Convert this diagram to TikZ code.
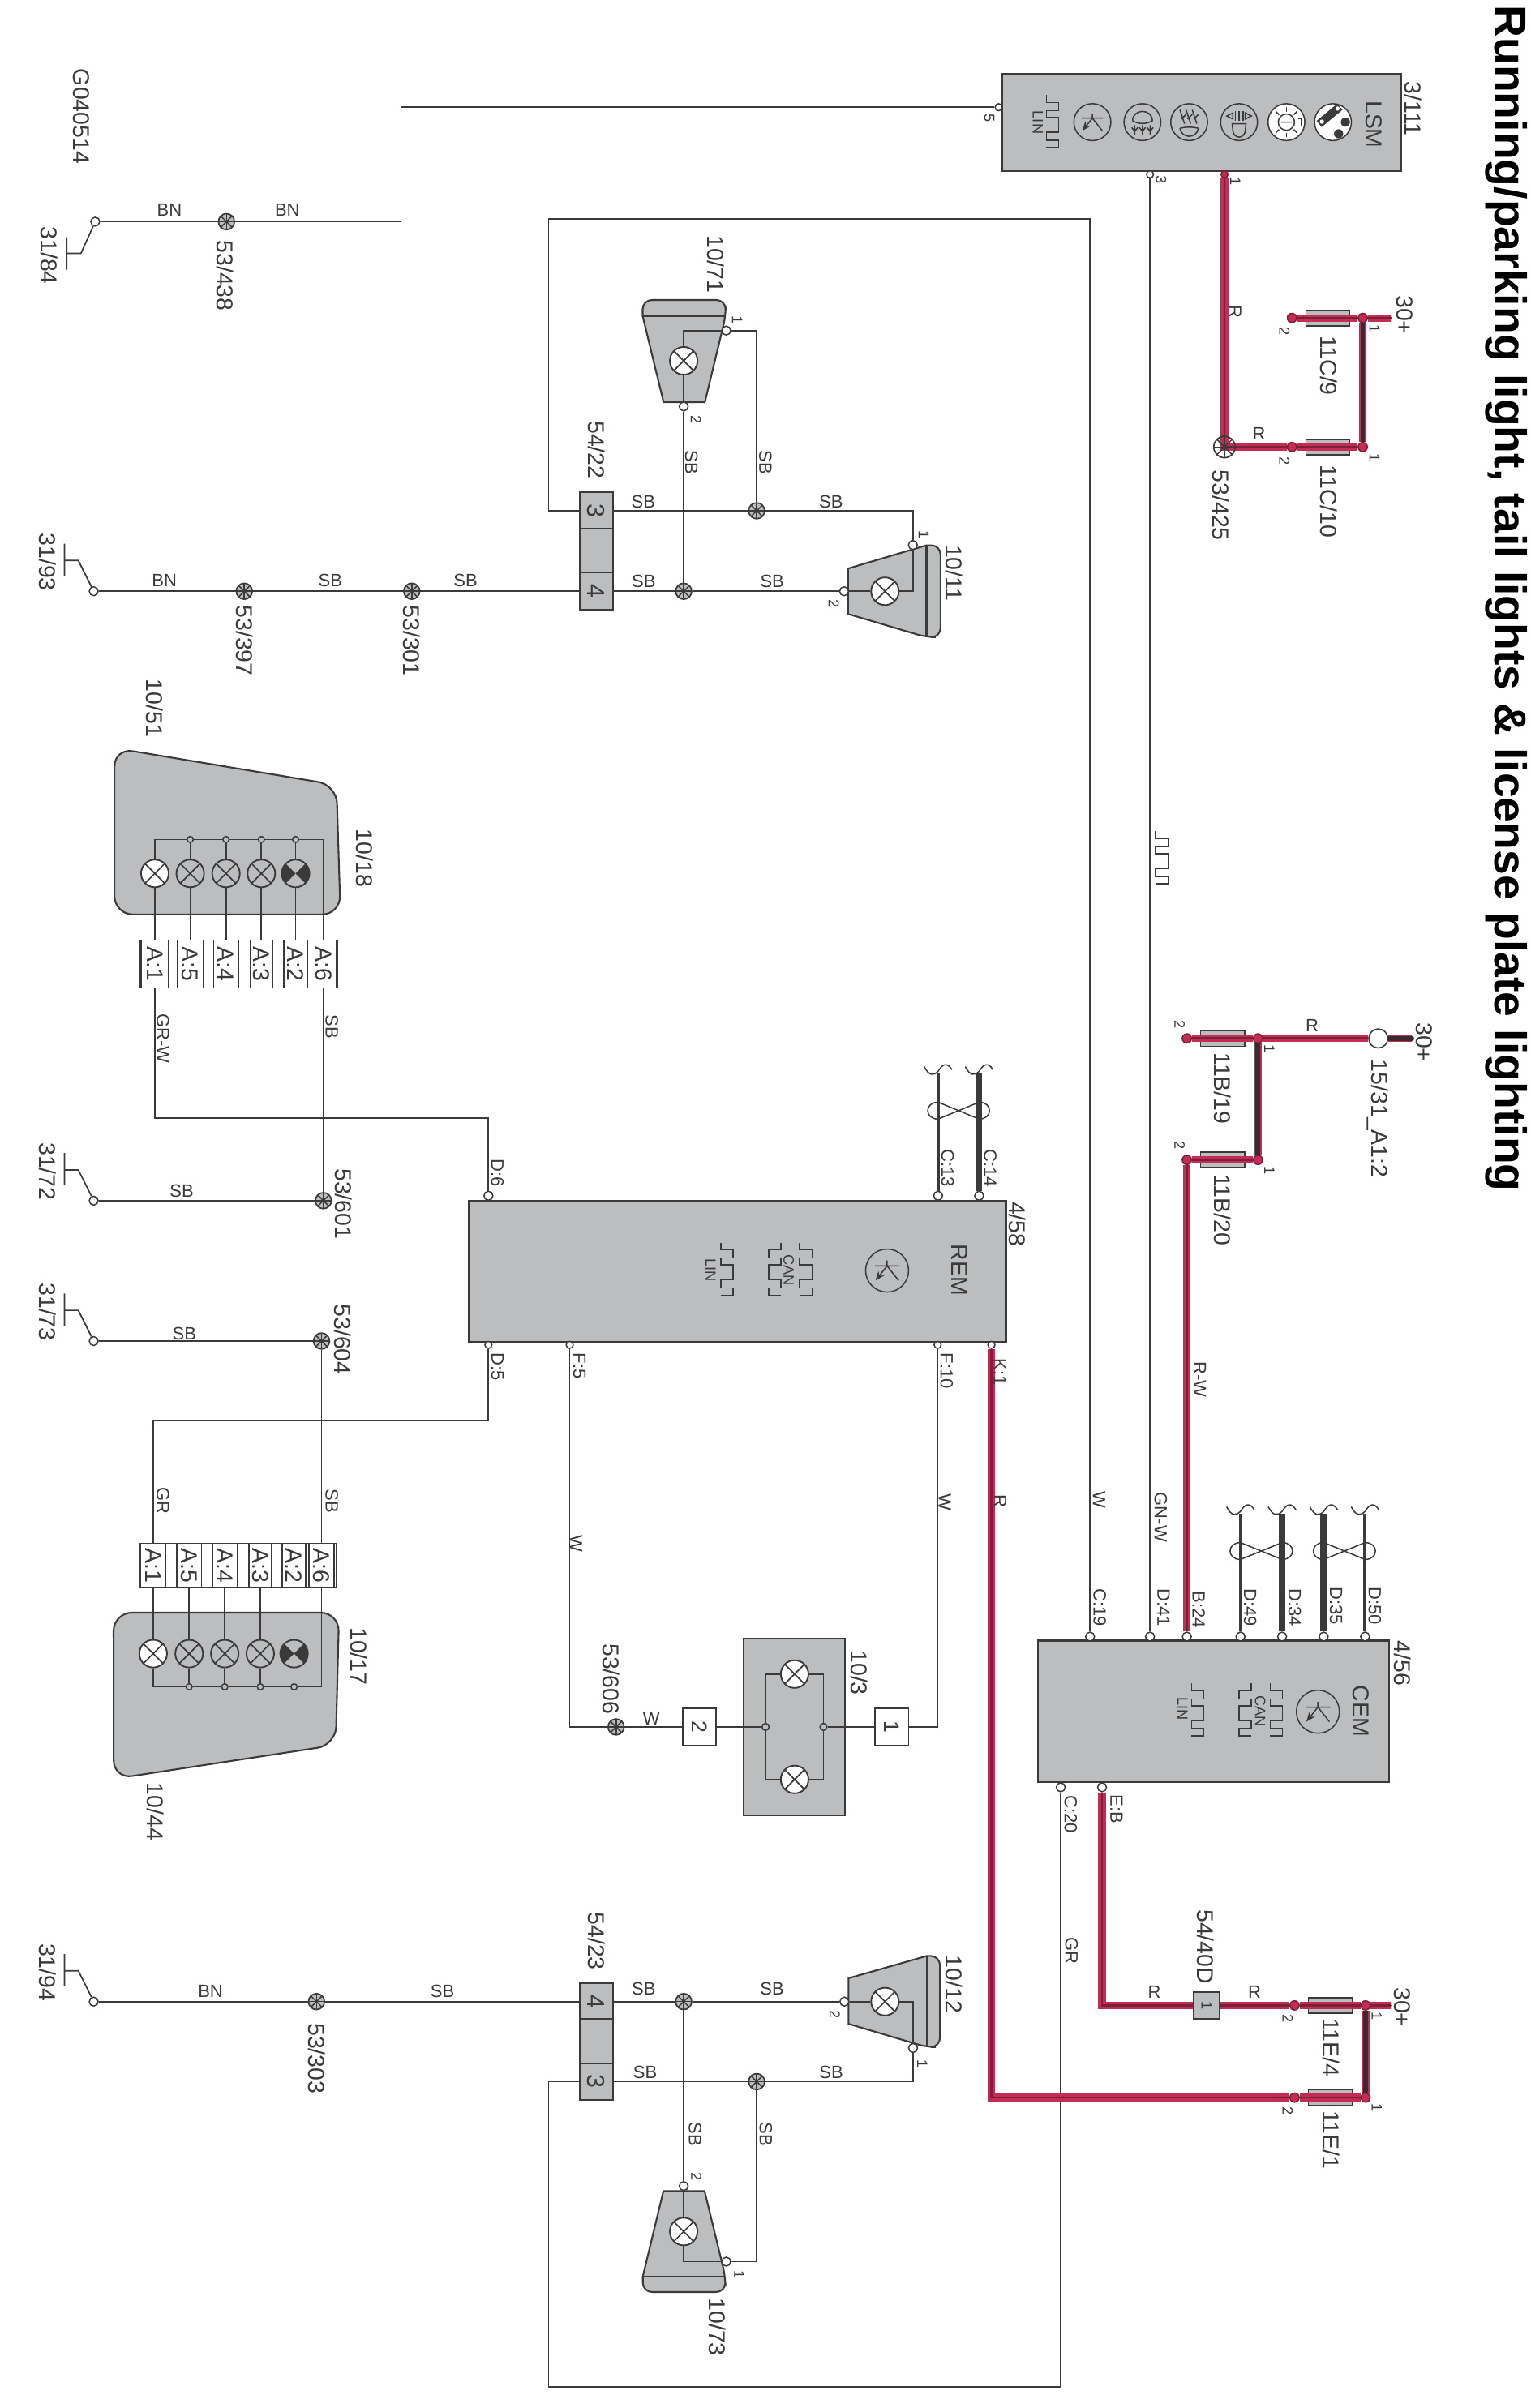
\documentclass[tikz,border=0pt]{standalone}
\usepackage{fontspec}
\setmainfont{Liberation Sans}
\usetikzlibrary{arrows.meta}
\usetikzlibrary{backgrounds}

\definecolor{inkc}{HTML}{3A3A3A}
\definecolor{panelc}{HTML}{BCBDBF}
\definecolor{wirered}{HTML}{C42C56}
\definecolor{corered}{HTML}{7A2038}
\definecolor{coredark}{HTML}{3A2A30}

\tikzset{
    tag/.style={rotate=-90, inner sep=0pt, text=inkc, font=\fontsize{7.5}{8}\selectfont},
    wiretag/.style={tag, font=\fontsize{5.8}{6}\selectfont},
    flattag/.style={inner sep=0pt, text=inkc, font=\fontsize{5.8}{6}\selectfont},
    pintag/.style={tag, font=\fontsize{4.8}{5}\selectfont},
    wire/.style={draw=inkc, line width=0.45pt},
    redwire/.style={draw=corered, line width=0.7pt, preaction={draw=wirered, line width=2.45pt}},
    darkwire/.style={draw=coredark, line width=1.5pt, preaction={draw=wirered, line width=2.45pt}},
    canthin/.style={draw=inkc, line width=1.1pt},
    canthick/.style={draw=inkc, line width=2.3pt},
    symline/.style={draw=inkc, line width=0.4pt},
    body/.style={draw=inkc, fill=panelc, line width=0.55pt},
    ecubox/.style={rectangle, draw=inkc, fill=panelc, line width=0.6pt, inner sep=0pt},
    field/.style={tag, rectangle, draw=inkc, fill=panelc, line width=0.5pt, font=\fontsize{8}{8}\selectfont},
    stripfield/.style={field, fill=white, line width=0.4pt, minimum width=15.6pt},
    fusebox/.style={rectangle, draw=inkc, fill=panelc, line width=0.45pt, inner sep=0pt,
        minimum width=14.3pt, minimum height=5.1pt},
    pin/.style={circle, draw=inkc, fill=white, line width=0.4pt, inner sep=0pt, minimum size=2.9pt},
    smallpin/.style={pin, minimum size=2.3pt},
    raildot/.style={pin, fill=panelc, minimum size=2pt},
    redpin/.style={pin, draw=corered, fill=wirered, minimum size=3pt},
    splice/.style={circle, draw=inkc, fill=panelc, line width=0.45pt, inner sep=0pt, minimum size=5.2pt,
        path picture={
            \foreach \a in {0,45,90,135}
                \draw[inkc, line width=0.4pt] (path picture bounding box.center) +(\a:4pt) -- +({\a+180}:4pt);
        }},
    lampcross/.style={circle, draw=inkc, line width=0.5pt, inner sep=0pt, minimum size=9pt,
        path picture={
            \draw[inkc, line width=0.45pt] (path picture bounding box.center) +(45:6pt) -- +(225:6pt)
                (path picture bounding box.center) +(135:6pt) -- +(315:6pt);
        }},
    lampwhite/.style={lampcross, fill=white},
    lampgray/.style={lampcross, fill=panelc},
    lampdark/.style={circle, draw=inkc, fill=panelc, line width=0.5pt, inner sep=0pt, minimum size=9pt,
        path picture={
            \fill[inkc] (path picture bounding box.center) -- +(135:8pt) -- +(225:8pt) -- cycle;
            \fill[inkc] (path picture bounding box.center) -- +(45:8pt) -- +(-45:8pt) -- cycle;
        }},
    pulse/.pic={
        \draw[symline] (-4,-17.1) -- (-4,-12.3) -- (4,-12.3) -- (4,-7) -- (-4,-7) -- (-4,-2.6)
            -- (4,-2.6) -- (4,7.1) -- (-4,7.1) -- (-4,12.4) -- (4,12.4) -- (4,17.1) -- (-4,17.1);
    },
    ecusym/.pic={
        \draw[symline] (0,0) circle (14);
        \draw[symline] (0,-6.5) -- (0,-3) (-8,-3) -- (8,-3) (0,-3) -- (7.5,6.5);
        \draw[symline, -{Stealth[length=3pt, width=2.4pt]}] (0,-3) -- (-7.5,6.5);
    }
}

\begin{document}
\begin{tikzpicture}[x=0.5pt, y=-0.5pt]

    \useasboundingbox (0,0) rectangle (996,1567.6);

    \node[tag, anchor=base west, text=black, font=\fontsize{14.6}{15}\selectfont\bfseries] (title)
        at (973,3) {Running/parking light, tail lights \& license plate lighting};
    \node[tag] (docid) at (53,75.7) {G040514};

    % modules
    \node[ecubox, minimum width=129.8pt, minimum height=31.8pt] (lsm) at (782.2,79.7) {};
    \node[ecubox, minimum width=174.75pt, minimum height=46pt] (rem) at (480,827.6) {};
    \node[ecubox, minimum width=114.3pt, minimum height=46pt] (cem) at (789.9,1114) {};

    \node[tag] (lsmname) at (894,81) {LSM};
    \node[tag] (lsmref) at (920,70.8) {3/111};
    \node[tag] (remname) at (624.5,826.8) {REM};
    \node[tag] (remref) at (662.2,796.9) {4/58};
    \node[tag] (cemname) at (885.8,1113.8) {CEM};
    \node[tag] (cemref) at (913.1,1082.7) {4/56};

    \pic at (685.1,79) {pulse};
    \node[pintag] (lsmlin) at (675.5,79.7) {LIN};
    \pic[scale=0.86] at (711,79.5) {ecusym};
    \pic at (473.2,826) {pulse};
    \node[pintag] (remlin) at (462.5,827) {LIN};
    \pic at (524.5,826) {pulse};
    \pic[xscale=-1] at (504.3,826) {pulse};
    \node[pintag] (remcan) at (513.4,827) {CAN};
    \pic at (577.4,827.1) {ecusym};
    \pic at (779.5,1113) {pulse};
    \node[pintag] (cemlin) at (769.8,1112.5) {LIN};
    \pic at (830.8,1113) {pulse};
    \pic[xscale=-1] at (810.5,1113) {pulse};
    \node[pintag] (cemcan) at (820.3,1113.8) {CAN};
    \pic at (857.8,1114.3) {ecusym};

    % LSM switch symbols
    \begin{scope}[shift={(743.6,79.5)}]
        \draw[symline] (0,0) circle (12);
        \draw[symline] (-6.5,-1) .. controls (-6,-9) and (6,-9) .. (6.5,-1) .. controls (3,1.5) and (-3,1.5) .. (-6.5,-1);
        \foreach \x in {-5,0,5}
            \draw[symline] (\x,2) -- (\x,8.5) (\x-2,3.5) -- (\x,6) -- (\x+2,3.5);
    \end{scope}
    \begin{scope}[shift={(774,79.5)}]
        \draw[symline] (0,0) circle (12);
        \draw[symline] (-6,4) .. controls (-2,3) and (2,3) .. (6,4) .. controls (5,11) and (-5,11) .. (-6,4);
        \foreach \x in {-6,-2,2}
            \draw[symline] (\x,-8) -- (\x+3,1) (\x+4,-5) -- (\x+1,-2);
    \end{scope}
    \begin{scope}[shift={(806.5,79.5)}]
        \draw[symline] (0,0) circle (12);
        \draw[symline] (-4.5,1) -- (4.5,1) -- (4,6) .. controls (3,11) and (-3,11) .. (-4,6) -- cycle;
        \draw[symline] (-8,-4) -- (-4,-6) -- (-4,-2) -- cycle (4,-6) -- (8,-4) -- (4,-2) -- cycle;
        \foreach \x in {-2.5,0,2.5}
            \draw[symline] (\x,-7) -- (\x,-1);
    \end{scope}
    \begin{scope}[shift={(837.3,79.5)}]
        \draw[symline, fill=white] (0,0) circle (12);
        \draw[symline] (0,0) circle (5.3) (-3.5,0) -- (3.5,0);
        \draw[symline] (7.5,-2.5) -- (9.5,-2.5) -- (9.5,2.5) -- (7.5,2.5);
        \foreach \a in {45,90,135,180,225,270,315}
            \draw[symline] (\a:6.8) -- (\a:9.8);
    \end{scope}
    \begin{scope}[shift={(867.6,79.5)}]
        \draw[symline, fill=white] (0,0) circle (12);
        \draw[inkc, line width=2.6pt] (-9,1.2) -- (4.5,-10);
        \fill[white] (-7.2,-0.3) circle (1.4) (3,-8.8) circle (1.4);
        \fill[inkc] (8.1,0) circle (3) (3.7,7.6) circle (3);
    \end{scope}

    % module pins
    \node[smallpin] (lsm5) at (650,69.8) {};
    \node[smallpin] (lsm3) at (748.5,113.5) {};
    \node[redpin, minimum size=2.3pt] (lsm1) at (797,113.5) {};
    \node[pin] (rem6) at (317.9,778.4) {};
    \node[pin] (rem13) at (610.6,778.4) {};
    \node[pin] (rem14) at (637.3,778.4) {};
    \node[smallpin] (rem5) at (317.9,875.5) {};
    \node[smallpin] (remf5) at (370.8,875.5) {};
    \node[smallpin] (remf10) at (610.3,875.5) {};
    \node[smallpin] (remk1) at (645.3,875.5) {};
    \node[pin] (cem19) at (709.5,1065.4) {};
    \node[pin] (cem41) at (748.5,1065.4) {};
    \node[pin] (cem24) at (772.5,1065.4) {};
    \node[pin] (cem49) at (807.4,1065.4) {};
    \node[pin] (cem34) at (834.5,1065.4) {};
    \node[pin] (cem35) at (861.6,1065.4) {};
    \node[pin] (cem50) at (888.5,1065.4) {};
    \node[pin] (cem20) at (690.4,1163.5) {};
    \node[pin] (cemeb) at (717.3,1163.5) {};

    \node[pintag] (lab5) at (644,77) {5};
    \node[pintag] (lab3) at (755.7,117) {3};
    \node[pintag] (lab1) at (804,118) {1};
    \node[wiretag] (labd6) at (323.8,763.5) {D:6};
    \node[wiretag] (labc13) at (616.8,760.5) {C:13};
    \node[wiretag] (labc14) at (644.5,760.5) {C:14};
    \node[wiretag] (labd5) at (323.8,889.7) {D:5};
    \node[wiretag] (labf5) at (377.2,889.2) {F:5};
    \node[wiretag] (labf10) at (616.2,892.4) {F:10};
    \node[wiretag] (labk1) at (650.9,893) {K:1};
    \node[wiretag] (labc19) at (715.8,1046.6) {C:19};
    \node[wiretag] (labd41) at (757.4,1046.6) {D:41};
    \node[wiretag] (labb24) at (780.2,1047.8) {B:24};
    \node[wiretag] (labd49) at (813.7,1046.6) {D:49};
    \node[wiretag] (labd34) at (842.7,1046.6) {D:34};
    \node[wiretag] (labd35) at (869.6,1045.4) {D:35};
    \node[wiretag] (labd50) at (894.8,1045.4) {D:50};
    \node[wiretag] (labc20) at (696.9,1181.1) {C:20};
    \node[wiretag] (labeb) at (726.8,1177.6) {E:B};

    % ground points
    \node[pin] (sw84) at (62,144.3) {};
    \draw[wire] (43.4,154.5) -- (43.4,175.6) (43.4,164.9) -- (52.7,164.9) -- (sw84);
    \node[tag] (swl84) at (32.2,166.3) {31/84};
    \foreach \n/\y in {93/384.9,72/781.6,73/873,94/1303} {
        \node[pin] (sw\n) at (61,\y) {};
        \draw[wire] (42,\y-31) -- (42,\y-10) (42,\y-20) -- (51,\y-20) -- (sw\n);
        \node[tag] (swl\n) at (31,\y-19) {31/\n};
    }

    % splices
    \node[splice] (sp438) at (147.4,144.3) {};
    \node[splice] (sp397) at (159,384.9) {};
    \node[splice] (sp301) at (268,384.9) {};
    \node[splice] (sp71) at (492.5,332.5) {};
    \node[splice] (sp11) at (445,384.9) {};
    \node[splice] (sp601) at (210.5,781.6) {};
    \node[splice] (sp604) at (209.3,873) {};
    \node[splice] (sp606) at (401,1124.2) {};
    \node[splice] (sp303) at (206,1303) {};
    \node[splice] (sp12) at (445,1303) {};
    \node[splice] (sp73) at (492.5,1355.1) {};
    \node[splice, fill=none, minimum size=7pt] (sp425) at (797,291) {};

    \node[tag] (lab438) at (146.8,179.5) {53/438};
    \node[tag] (lab397) at (159,417) {53/397};
    \node[tag] (lab301) at (268,417) {53/301};
    \node[tag] (lab601) at (223.7,783.7) {53/601};
    \node[tag] (lab604) at (223,872) {53/604};
    \node[tag] (lab606) at (398,1093) {53/606};
    \node[tag] (lab303) at (206,1340) {53/303};
    \node[tag] (lab425) at (794.7,329) {53/425};

    % connectors 54/22 54/23 54/40D
    \node[field, minimum width=12pt, minimum height=10.7pt] (c22a) at (388.1,332.5) {3};
    \node[field, minimum width=14.6pt, minimum height=10.7pt] (c22m) at (388.1,358.9) {};
    \node[field, minimum width=12pt, minimum height=10.7pt] (c22b) at (388.1,384.9) {4};
    \node[tag] (lab22) at (388.4,292.9) {54/22};
    \node[field, minimum width=12pt, minimum height=10.7pt] (c23a) at (388.1,1303) {4};
    \node[field, minimum width=15.2pt, minimum height=10.7pt] (c23m) at (388.1,1329.2) {};
    \node[field, minimum width=12pt, minimum height=10.7pt] (c23b) at (388.1,1355.1) {3};
    \node[tag] (lab23) at (388.3,1263.6) {54/23};
    \node[field, minimum width=8.8pt, minimum height=8.3pt, font=\fontsize{4.8}{5}\selectfont] (c40) at (785.3,1305.5) {1};
    \node[tag] (lab40) at (784.5,1267.3) {54/40D};

    % lamps 10/71 10/11 10/12 10/73
    \node[lampwhite] (l71) at (445,234.9) {};
    \node[pin] (p71a) at (472.7,215.2) {};
    \node[pin] (p71b) at (445,264.6) {};
    \node[pintag] (lab71a) at (479.9,208.5) {1};
    \node[pintag] (lab71b) at (453,273) {2};
    \node[tag] (lab71) at (466,172) {10/71};

    \node[lampwhite] (l11) at (576,384.9) {};
    \node[pin] (p11a) at (594.2,354.8) {};
    \node[pin] (p11b) at (549.4,384.9) {};
    \node[pintag] (lab11a) at (601.3,348.3) {1};
    \node[pintag] (lab11b) at (542.7,393.2) {2};
    \node[tag] (lab11) at (621.3,373) {10/11};

    \node[lampwhite] (l12) at (576,1303) {};
    \node[pin] (p12a) at (594.3,1333.2) {};
    \node[pin] (p12b) at (549.6,1303) {};
    \node[pintag] (lab12a) at (600.3,1343.3) {1};
    \node[pintag] (lab12b) at (543.4,1311.6) {2};
    \node[tag] (lab12) at (621.3,1291.8) {10/12};

    \node[lampwhite] (l73) at (445,1452.7) {};
    \node[pin] (p73a) at (472.7,1472.3) {};
    \node[pin] (p73b) at (445,1423.1) {};
    \node[pintag] (lab73a) at (481.2,1480.6) {1};
    \node[pintag] (lab73b) at (453.3,1417) {2};
    \node[tag] (lab73) at (466.7,1514.9) {10/73};

    % rear lamp clusters
    \node[rectangle, draw=inkc, fill=white, line width=0.4pt, inner sep=0pt, minimum width=64.2pt, minimum height=15.6pt] (strip18) at (155.6,627.5) {};
    \foreach \n/\x/\t/\w in {a/100.8/A:1/8.6,b/123.8/A:5/8.4,c/147.1/A:4/8.1,d/170.1/A:3/7.4,e/192.4/A:2/7.6,f/210.5/A:6/8.2} {
        \node[stripfield, minimum height=\w pt, font=\fontsize{7.5}{8}\selectfont] (f18\n) at (\x,627.5) {\t};
    }
    \foreach \n/\x/\s in {a/100.8/lampwhite,b/123.8/lampgray,c/147.1/lampgray,d/170.1/lampgray,e/192.4/lampdark} {
        \node[\s] (l18\n) at (\x,568.6) {};
    }
    \foreach \n/\x in {b/123.8,c/147.1,d/170.1,e/192.4}
        \node[raildot] (d18\n) at (\x,546.5) {};
    \node[tag] (lab51) at (100.8,461) {10/51};
    \node[tag] (lab18) at (237.5,558.7) {10/18};

    \node[rectangle, draw=inkc, fill=white, line width=0.4pt, inner sep=0pt, minimum width=64pt, minimum height=14.4pt] (strip17) at (154.8,1019) {};
    \foreach \n/\x/\t/\w in {a/99.7/A:1/8,b/123.1/A:5/8.1,c/146.3/A:4/8.1,d/169.4/A:3/7.4,e/191.4/A:2/7.6,f/209.3/A:6/8.1} {
        \node[stripfield, minimum width=14.4pt, minimum height=\w pt, font=\fontsize{7.5}{8}\selectfont] (f17\n) at (\x,1019) {\t};
    }
    \foreach \n/\x/\s in {a/99.7/lampwhite,b/123.1/lampgray,c/146.3/lampgray,d/169.4/lampgray,e/191.4/lampdark} {
        \node[\s] (l17\n) at (\x,1076.5) {};
    }
    \foreach \n/\x in {b/123.1,c/146.3,d/169.4,e/191.4}
        \node[raildot] (d17\n) at (\x,1098.1) {};
    \node[tag] (lab17) at (233.6,1078.2) {10/17};
    \node[tag] (lab44) at (101.1,1179.4) {10/44};

    % license plate lamp
    \node[lampwhite] (l3a) at (517.2,1089.8) {};
    \node[lampwhite] (l3b) at (517.2,1158.4) {};
    \node[smallpin, fill=panelc] (p3l) at (498.3,1124.2) {};
    \node[smallpin, fill=panelc] (p3r) at (536,1124.2) {};
    \node[field, fill=white, minimum width=12.1pt, minimum height=10.9pt, font=\fontsize{7}{7}\selectfont] (box2) at (455.3,1124.2) {2};
    \node[field, fill=white, minimum width=12.1pt, minimum height=10.9pt, font=\fontsize{7}{7}\selectfont] (box1) at (580.5,1124.2) {1};
    \node[tag] (lab103) at (559.4,1088.9) {10/3};

    % fuses, pins
    \node[redpin] (p9b) at (840.9,207) {};
    \node[redpin] (p9a) at (887,207) {};
    \node[redpin] (p10b) at (840.9,291) {};
    \node[redpin] (p10a) at (887,291) {};
    \node[redpin] (p19b) at (772.5,676) {};
    \node[redpin] (p19a) at (818.8,676) {};
    \node[redpin] (p20b) at (772.5,755.1) {};
    \node[redpin] (p20a) at (818.8,755.1) {};
    \node[redpin] (p4b) at (842.6,1305.5) {};
    \node[redpin] (p4a) at (888.8,1305.5) {};
    \node[redpin] (p1b) at (842.6,1365.5) {};
    \node[redpin] (p1a) at (888.8,1365.5) {};
    \node[pin, minimum size=6.2pt] (feed) at (897.1,676) {};
    \coordinate (end9) at (905.4,207);
    \coordinate (end4) at (905,1305.5);
    \coordinate (end19) at (919,676);

    \node[pintag] (lab9b) at (836,215.6) {2};
    \node[pintag] (lab9a) at (894.7,214) {1};
    \node[pintag] (lab10b) at (836,300) {2};
    \node[pintag] (lab10a) at (894.7,298) {1};
    \node[pintag] (lab19b) at (767.8,666.7) {2};
    \node[pintag] (lab19a) at (826.2,682.5) {1};
    \node[pintag] (lab20b) at (767.8,745.8) {2};
    \node[pintag] (lab20a) at (826.2,762) {1};
    \node[pintag] (lab4b) at (838.2,1314) {2};
    \node[pintag] (lab4a) at (896.2,1312.2) {1};
    \node[pintag] (lab1b) at (838.2,1374.1) {2};
    \node[pintag] (lab1a) at (896.2,1372) {1};
    \node[tag] (lab9) at (865,238) {11C/9};
    \node[tag] (lab10) at (865,326.5) {11C/10};
    \node[tag] (lab19) at (796,708.5) {11B/19};
    \node[tag] (lab20) at (796,787.6) {11B/20};
    \node[tag] (labe4) at (866.3,1332.9) {11E/4};
    \node[tag] (labe1) at (866.3,1393) {11E/1};
    \node[tag] (labp1) at (914.5,205) {30+};
    \node[tag] (labp2) at (927,678.4) {30+};
    \node[tag] (labp3) at (912.9,1306.5) {30+};
    \node[tag] (labfeed) at (896.8,728.2) {15/31\_A1:2};

    % wire colours
    \node[flattag] (w1) at (110.3,136.7) {BN};
    \node[flattag] (w2) at (187,136.7) {BN};
    \node[flattag] (w3) at (107,378) {BN};
    \node[flattag] (w4) at (215,378) {SB};
    \node[flattag] (w5) at (303,378) {SB};
    \node[flattag] (w6) at (418.7,326.9) {SB};
    \node[flattag] (w7) at (540.9,326.9) {SB};
    \node[flattag] (w8) at (419,378.6) {SB};
    \node[flattag] (w9) at (502.6,378.6) {SB};
    \node[wiretag] (w10) at (450,301) {SB};
    \node[wiretag] (w11) at (498.2,301) {SB};
    \node[wiretag] (w12) at (106,676) {GR-W};
    \node[wiretag] (w13) at (216,668.3) {SB};
    \node[flattag] (w14) at (118.3,775.5) {SB};
    \node[flattag] (w15) at (120,868) {SB};
    \node[wiretag] (w16) at (106,977) {GR};
    \node[wiretag] (w17) at (216,977) {SB};
    \node[wiretag] (w18) at (375,1005) {W};
    \node[flattag] (w19) at (424,1119) {W};
    \node[wiretag] (w20) at (615,978) {W};
    \node[wiretag] (w21) at (651,977) {R};
    \node[wiretag] (w22) at (715.4,976.2) {W};
    \node[wiretag] (w23) at (755.5,987.7) {GN-W};
    \node[wiretag] (w24) at (781,898) {R-W};
    \node[wiretag] (w25) at (804,203) {R};
    \node[flattag] (w26) at (819.5,282.4) {R};
    \node[flattag] (w27) at (854,667.9) {R};
    \node[flattag] (w28) at (751.4,1296.7) {R};
    \node[flattag] (w29) at (816.5,1296.7) {R};
    \node[wiretag] (w30) at (697.4,1270) {GR};
    \node[flattag] (w31) at (137,1296) {BN};
    \node[flattag] (w32) at (288,1296) {SB};
    \node[flattag] (w33) at (419,1294.9) {SB};
    \node[flattag] (w34) at (502.5,1294.9) {SB};
    \node[flattag] (w35) at (419.9,1349) {SB};
    \node[flattag] (w36) at (541,1349) {SB};
    \node[wiretag] (w37) at (452.4,1389.4) {SB};
    \node[wiretag] (w38) at (498.5,1389.4) {SB};

    \pic at (756.2,558.3) {pulse};

    % twisted pairs
    \foreach \a/\b/\y in {610.6/637.3/723,807.4/834.5/1009.7,861.6/888.5/1009.7}
        \draw[symline] (\a,\y-5.5) -- (\b,\y+5.5) .. controls (\b+9,\y+5.5) and (\b+9,\y-5.5) .. (\b,\y-5.5)
            -- (\a,\y+5.5) .. controls (\a-9,\y+5.5) and (\a-9,\y-5.5) .. (\a,\y-5.5);
    \foreach \x/\y in {610.6/695.4,637.3/695.4,807.4/981.9,834.5/981.9,861.6/981.9,888.5/981.9}
        \draw[symline] (\x-9,\y-1) .. controls (\x-6,\y+5) and (\x-3,\y+5) .. (\x,\y+2) .. controls (\x+3,\y-3) and (\x+6,\y-4) .. (\x+9,\y+1);

    \begin{scope}[on background layer]

        \fill[white] (0,0) rectangle (996,1567.6);

        % lamp housings
        \draw[body] (431.9,261.8) -- (418.3,205.8) [rounded corners=3pt] -- (418.3,195.3) -- (472.3,195.3)
            -- (472.3,205.8) [sharp corners] -- (458.8,261.8) -- cycle;
        \draw[body] (418.3,205.8) -- (472.3,205.8);
        \draw[body] (552,370.1) -- (603,355) [rounded corners=3pt] -- (612.2,355) -- (612.2,414.8)
            -- (603,414.8) [sharp corners] -- (552,399.7) -- cycle;
        \draw[body] (603,355) -- (603,414.8);
        \draw[body] (552.3,1287.8) -- (603.2,1273.3) [rounded corners=3pt] -- (611.8,1273.3) -- (611.8,1332.6)
            -- (603.2,1332.6) [sharp corners] -- (552.3,1317.5) -- cycle;
        \draw[body] (603.2,1273.3) -- (603.2,1332.6);
        \draw[body] (431.8,1426.3) -- (418.4,1482) [rounded corners=3pt] -- (418.4,1492.1) -- (472.1,1492.1)
            -- (472.1,1482) [sharp corners] -- (458.6,1426.3) -- cycle;
        \draw[body] (418.4,1482) -- (472.1,1482);
        \draw[body, rounded corners=6pt] (74.5,595.3) -- (74.5,487) -- (219,511) -- (221.6,595.3) -- cycle;
        \draw[body, rounded corners=6pt] (73.9,1049.8) -- (220.7,1049.8) -- (218.5,1136) -- (74,1158) -- cycle;
        \draw[body] (484.1,1066.9) rectangle (550.2,1181.7);

        % fuses
        \node[fusebox] (f9) at (864.3,207) {};
        \node[fusebox] (f10) at (864.3,291) {};
        \node[fusebox] (f19) at (795.7,676) {};
        \node[fusebox] (f20) at (795.7,755.1) {};
        \node[fusebox] (f4) at (865.9,1305.5) {};
        \node[fusebox] (f1) at (865.9,1365.5) {};

        % signal wires
        \coordinate (k84) at (261,144.3);
        \coordinate (k142) at (357,142.4);
        \coordinate (k18) at (317.9,727.7);
        \coordinate (k17) at (317.9,925);
        \coordinate (k1553) at (357,1553.7);
        \draw[wire] (lsm5) -| (k84) -- (sp438) -- (sw84);
        \draw[wire] (lsm3) -- (cem41);
        \draw[wire] (c22a) -| (k142) -| (cem19);
        \draw[wire] (c22a) -- (sp71) -| (p11a);
        \draw[wire] (sw93) -- (sp397) -- (sp301) -- (c22b) -- (sp11) -- (p11b) -- (l11);
        \draw[wire] (l11) -| (p11a);
        \draw[wire] (sp71) |- (p71a);
        \draw[wire] (p71a) -| (l71);
        \draw[wire] (l71) -- (p71b) -- (sp11);

        \draw[wire] (l18a) |- (d18b) -- (d18c) -- (d18d) -- (d18e) -| (f18f);
        \foreach \n in {b,c,d,e}
            \draw[wire] (d18\n) -- (l18\n);
        \foreach \n in {a,b,c,d,e}
            \draw[wire] (l18\n) -- (f18\n);
        \draw[wire] (f18a) |- (k18) -- (rem6);
        \draw[wire] (f18f) -- (sp601) -- (sw72);

        \draw[wire] (l17a) |- (d17b) -- (d17c) -- (d17d) -- (d17e) -| (f17f);
        \foreach \n in {b,c,d,e}
            \draw[wire] (d17\n) -- (l17\n);
        \foreach \n in {a,b,c,d,e}
            \draw[wire] (l17\n) -- (f17\n);
        \draw[wire] (f17a) |- (k17) -- (rem5);
        \draw[wire] (f17f) -- (sp604) -- (sw73);

        \draw[wire] (remf5) |- (sp606) -- (box2) -- (p3l);
        \draw[wire] (p3l) |- (l3a);
        \draw[wire] (p3l) |- (l3b);
        \draw[wire] (l3a) -| (p3r);
        \draw[wire] (l3b) -| (p3r);
        \draw[wire] (p3r) -- (box1) -| (remf10);

        \draw[wire] (sw94) -- (sp303) -- (c23a) -- (sp12) -- (p12b) -- (l12);
        \draw[wire] (l12) -| (p12a);
        \draw[wire] (c23b) -- (sp73) -| (p12a);
        \draw[wire] (c23b) -| (k1553) -| (cem20);
        \draw[wire] (sp12) -- (p73b) -- (l73);
        \draw[wire] (l73) |- (p73a);
        \draw[wire] (sp73) |- (p73a);

        % twisted pair wires
        \coordinate (t13) at (610.6,698.9);
        \coordinate (t14) at (637.3,698.9);
        \coordinate (t49) at (807.4,985.5);
        \coordinate (t34) at (834.5,985.5);
        \coordinate (t35) at (861.6,985.5);
        \coordinate (t50) at (888.5,985.5);
        \draw[canthin, line width=1pt] (rem13) -- (t13);
        \draw[canthick, line width=2pt] (rem14) -- (t14);
        \draw[canthin] (cem49) -- (t49);
        \draw[canthick] (cem34) -- (t34);
        \draw[canthick] (cem35) -- (t35);
        \draw[canthin] (cem50) -- (t50);

        % supply wires
        \draw[redwire] (lsm1) -- (sp425.center) -- (p10b) -- (p10a);
        \draw[redwire, line cap=round] (p9b) -- (p9a) -- (end9);
        \draw[darkwire] (p9a) -- (p10a);
        \draw[redwire] (cem24) -- (p20b) -- (p20a);
        \draw[darkwire] (p20a) -- (p19a);
        \draw[redwire] (p19b) -- (p19a) -- (feed);
        \draw[darkwire, line cap=round] (feed) -- (end19);
        \draw[redwire] (remk1) |- (p1b) -- (p1a);
        \draw[redwire] (cemeb) |- (c40) -- (p4b) -- (p4a);
        \draw[redwire, line cap=round] (p4a) -- (end4);
        \draw[darkwire] (p4a) -- (p1a);

    \end{scope}

\end{tikzpicture}
\end{document}
